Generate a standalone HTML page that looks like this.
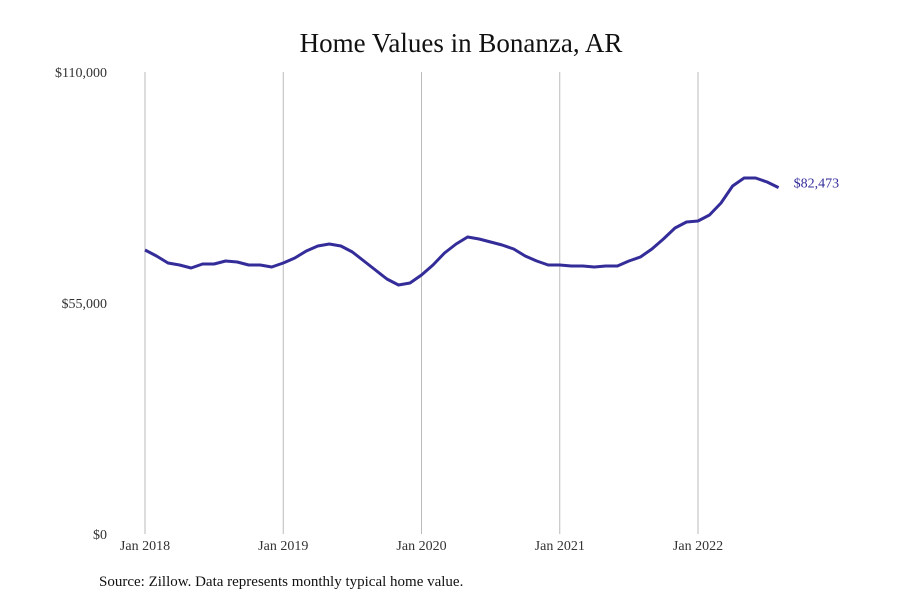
<!DOCTYPE html>
<html><head><meta charset="utf-8"><style>
body{margin:0;background:#fff;}
svg text{font-family:"Liberation Serif",serif;}
</style></head><body>
<svg id="chart" width="900" height="600" viewBox="0 0 900 600" xmlns="http://www.w3.org/2000/svg">
<text x="461" y="52" text-anchor="middle" font-size="27" fill="#111">Home Values in Bonanza, AR</text>
<g id="grid"></g><g id="axes"></g><g id="series"></g>
<text x="99" y="586" font-size="15" fill="#111">Source: Zillow. Data represents monthly typical home value.</text>
</svg>
<script>
const yPix=[250,256,263,265,268,264,264,261,262,265,265,267,263,258,251,246,244,246,252,261,270,279,285,283,275,265,253,244,237,239,242,245,249,256,261,265,265,266,266,267,266,266,261,257,249,239,228,222,221,215,203,186,178,178,182,187.6];
const values=yPix.map(p=>Math.round((534-p)/4.2*1000));
values[values.length-1]=82473;
const yTicks=[0,55000,110000];
const yTickLabels=["$0","$55,000","$110,000"];
const xTicks=[0,12,24,36,48];
const xTickLabels=["Jan 2018","Jan 2019","Jan 2020","Jan 2021","Jan 2022"];
const NS="http://www.w3.org/2000/svg";
const x=i=>145+i*(553/48);
const y=v=>534-v*(462/110000);
function mk(t,a,p){const e=document.createElementNS(NS,t);for(const k in a)e.setAttribute(k,a[k]);p.appendChild(e);return e;}
const grid=document.getElementById('grid'),axes=document.getElementById('axes'),ser=document.getElementById('series');
xTicks.forEach((m,i)=>{
 const l=mk('line',{x1:x(m),x2:x(m),y1:72,y2:534,stroke:'#bbb','stroke-width':1},grid);
 
 
 const t=mk('text',{x:x(m),y:550,'text-anchor':'middle','font-size':14,fill:'#333'},axes);
 t.textContent=xTickLabels[i];
 
 
});
yTicks.forEach((v,i)=>{
 const t=mk('text',{x:107,y:y(v)+5,'text-anchor':'end','font-size':14,fill:'#333'},axes);
 t.textContent=yTickLabels[i];
 
 
});
const d=values.map((v,i)=>(i?'L':'M')+x(i).toFixed(1)+','+y(v).toFixed(1)).join(' ');
const p=mk('path',{d:d,fill:'none',stroke:'#332c99','stroke-width':3,'stroke-linejoin':'round'},ser);


const n=values.length-1;
const lb=mk('text',{x:x(n)+15,y:y(values[n])+0,'font-size':14,fill:'#332c99'},ser);
lb.textContent='$'+values[n].toLocaleString('en-US');


</script>
</body></html>
